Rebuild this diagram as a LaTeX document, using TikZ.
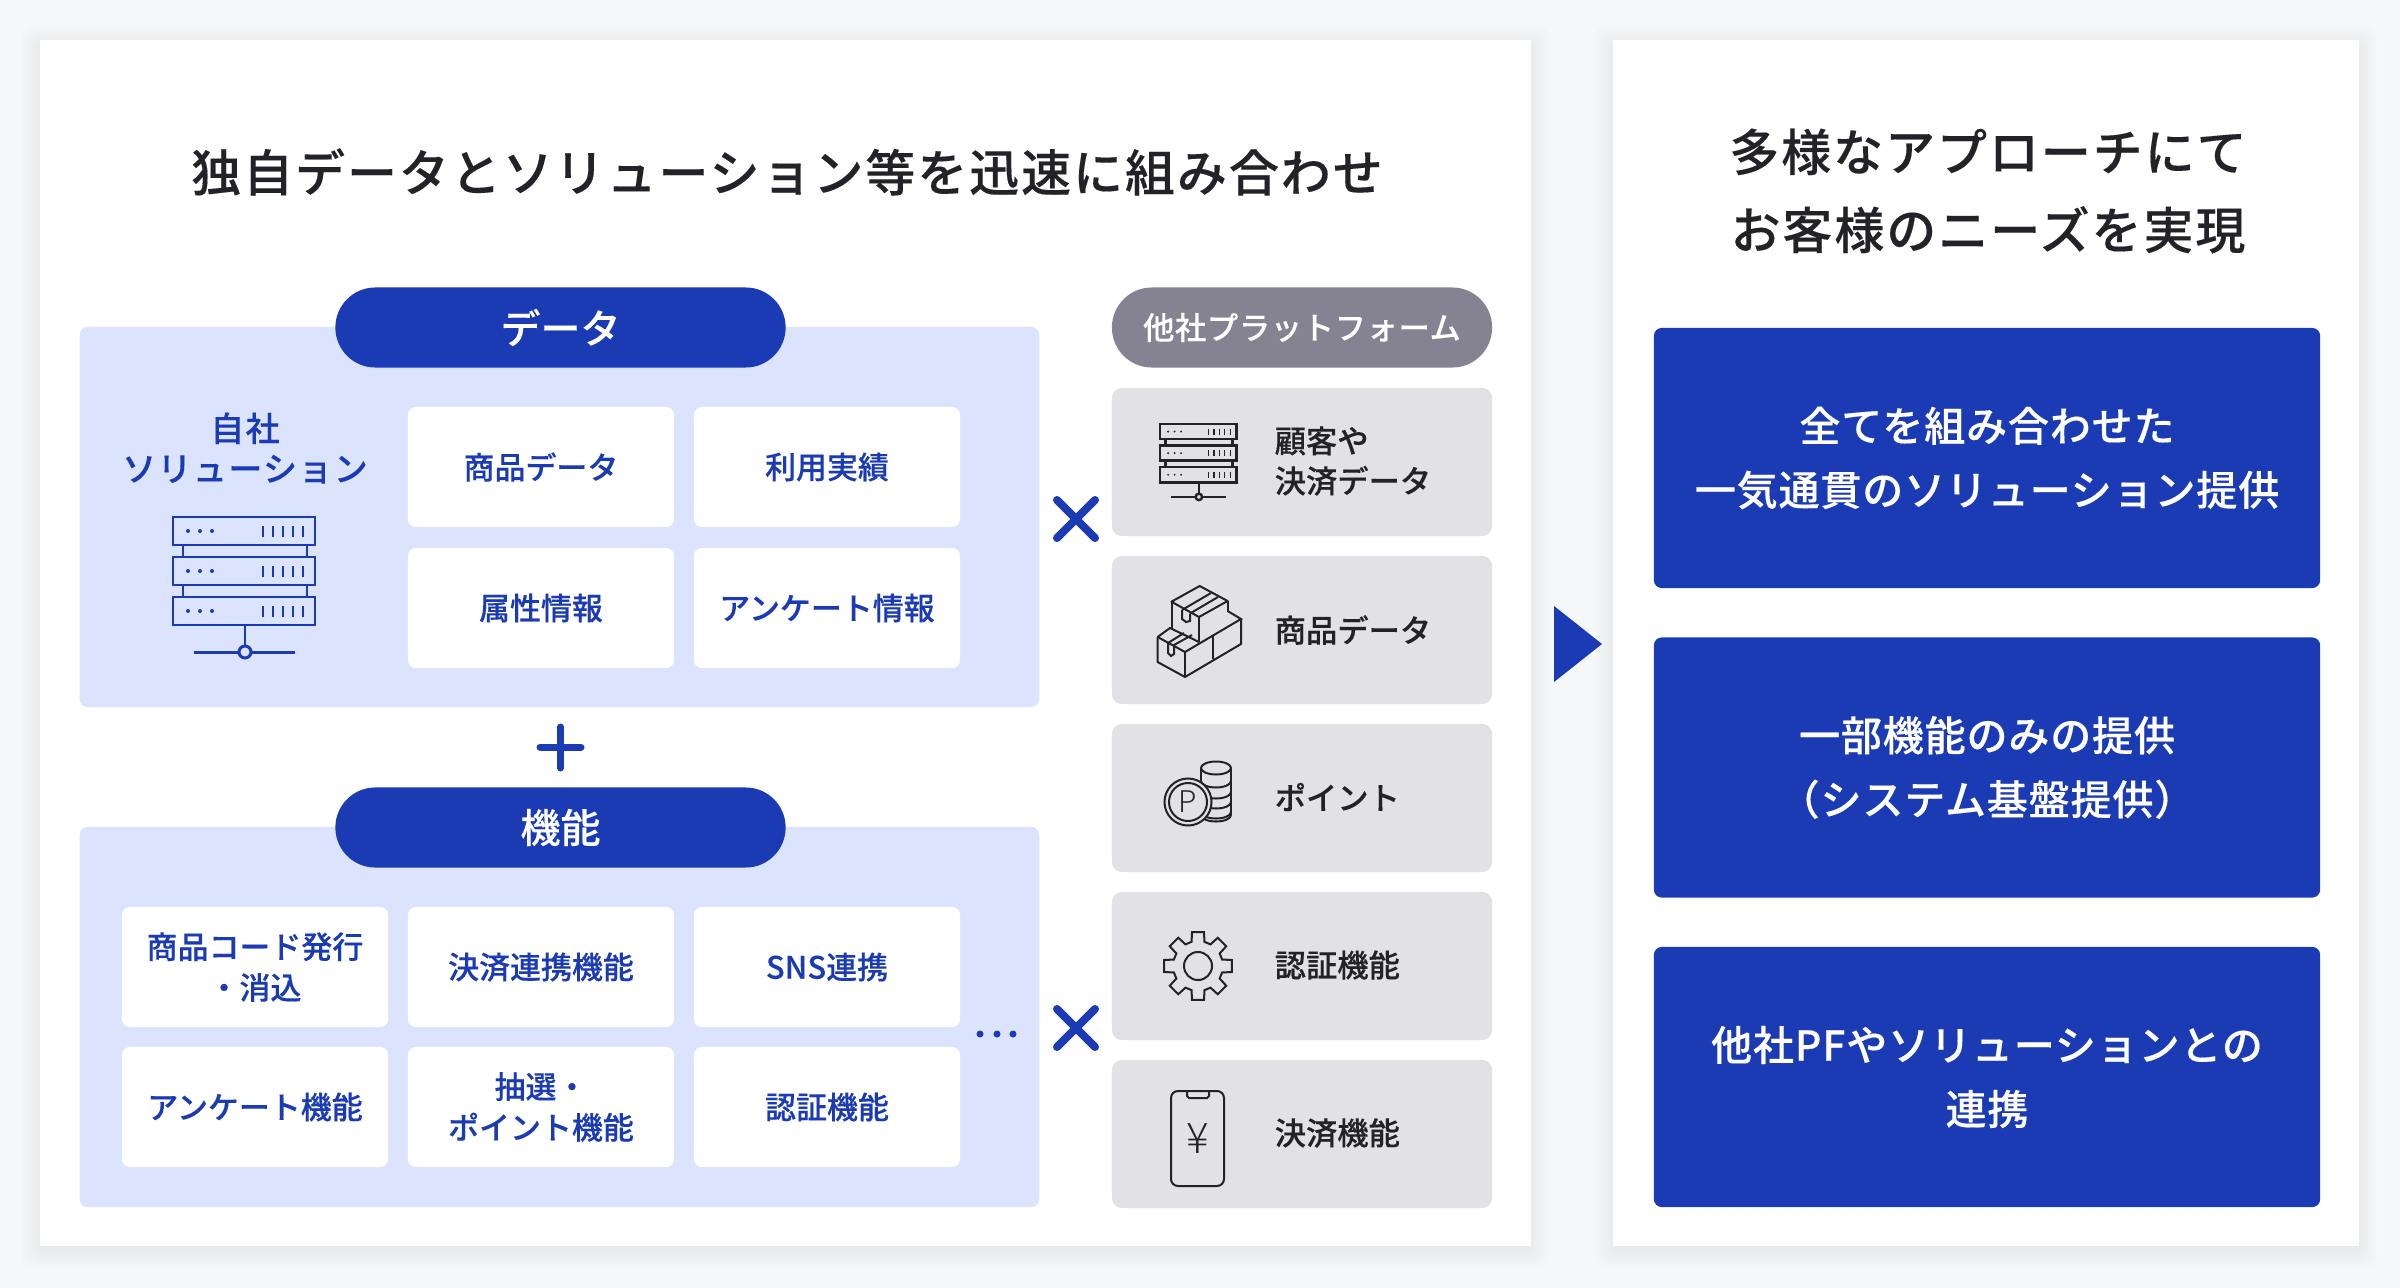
\documentclass[tikz,border=0pt]{standalone}
\usepackage{fontspec}
\newfontfamily\jpfont[FakeBold=0.25]{Noto Sans CJK JP Medium}
\newfontfamily\jpplain{Noto Sans CJK JP Light}
\usetikzlibrary{calc}

\definecolor{pagebg}{HTML}{F6F7F9}
\definecolor{brandblue}{HTML}{1A3BB3}
\definecolor{paleblue}{HTML}{DCE3FD}
\definecolor{pillgrey}{HTML}{858391}
\definecolor{boxgrey}{HTML}{E1E1E6}
\definecolor{inkdark}{HTML}{222228}

\tikzset{
  panel/.style={fill=white,inner sep=0pt},
  block/.style={fill=paleblue,rounded corners=0.08cm,inner sep=0pt,minimum width=9.59cm,minimum height=3.8cm},
  pill/.style={fill=brandblue,text=white,rounded corners=0.399cm,inner sep=0pt,minimum width=4.5cm,minimum height=0.8cm,
    font=\jpfont\fontsize{11.38pt}{13pt}\selectfont},
  greypill/.style={pill,fill=pillgrey,minimum width=3.8cm,
    font=\jpfont\fontsize{8.9pt}{11pt}\selectfont\addfontfeature{LetterSpace=2}},
  itembox/.style={fill=white,text=brandblue,rounded corners=0.08cm,inner sep=0pt,minimum width=2.66cm,minimum height=1.2cm,align=center,
    font=\jpfont\fontsize{8.8pt}{11.6pt}\selectfont},
  greybox/.style={fill=boxgrey,rounded corners=0.1cm,inner sep=0pt,minimum width=3.8cm,minimum height=1.48cm},
  greytext/.style={anchor=west,text=inkdark,inner sep=0pt,align=left,
    font=\jpfont\fontsize{8.9pt}{11.4pt}\selectfont},
  offerbox/.style={fill=brandblue,text=white,rounded corners=0.08cm,inner sep=0pt,minimum width=6.66cm,minimum height=2.6cm,align=center,
    font=\jpfont\fontsize{11.67pt}{18.2pt}\selectfont\addfontfeature{LetterSpace=2}},
  headline/.style={text=inkdark,inner sep=0pt,align=center,
    font=\jpfont\fontsize{14.2pt}{22.2pt}\selectfont\addfontfeature{LetterSpace=4}},
  iconline/.style={color=inkdark,line width=0.57pt},
  pics/server/.style={code={
    \draw (0,0) rectangle (142,28);
    \draw (0,40) rectangle (142,68);
    \draw (0,80) rectangle (142,108);
    \draw (10,28) -- (10,40) (134,28) -- (134,40) (10,68) -- (10,80) (134,68) -- (134,80);
    \foreach \y in {14,54,94} {
      \foreach \x in {15,27,39} \fill (\x,\y) circle (0.02cm);
      \foreach \x in {90,100,110,120,130} \fill (\x-1.2,\y-5.5) rectangle (\x+1.2,\y+5.5);
    }
    \draw (72,108) -- (72,129);
    \draw (21,135) -- (66,135) (78,135) -- (122,135);
    \draw (72,135) circle (0.06cm);
  }},
  pics/crossmark/.style={code={
    \draw[brandblue,line width=0.08cm,line cap=round] (-19,-19) -- (19,19) (-19,19) -- (19,-19);
  }}
}

\begin{document}
\begin{tikzpicture}[x=0.01cm,y=-0.01cm]
\useasboundingbox (0,0) rectangle (2400,1288);
\fill[pagebg] (0,0) rectangle (2400,1288);
\foreach \s in {3,6,...,18} {
  \fill[black,opacity=0.006,rounded corners=0.1cm] (40-\s,40-\s+4) rectangle (1531+\s,1246+\s+4);
  \fill[black,opacity=0.006,rounded corners=0.1cm] (1613-\s,40-\s+4) rectangle (2359+\s,1246+\s+4);
}
\node[panel,minimum width=14.91cm,minimum height=12.06cm] (leftpanel) at (785.5,643) {};
\node[panel,minimum width=7.46cm,minimum height=12.06cm] (rightpanel) at (1986,643) {};

\node[headline] (lefttitle) at (787,172) {独自データとソリューション等を迅速に組み合わせ};
\node[headline] (righttitle) at (1988,191) {多様なアプローチにて\\お客様のニーズを実現};

\node[block] (datablock) at (559.5,517) {};
\node[block] (funcblock) at (559.5,1017) {};
\node[pill] (datapill) at (560.5,327.5) {データ};
\node[pill] (funcpill) at (560.5,827.5) {機能};
\node[greypill] (otherpill) at (1302,327.5) {他社プラットフォーム};

\node[text=brandblue,inner sep=0pt,align=center,font=\jpfont\fontsize{9.67pt}{11.4pt}\selectfont\addfontfeature{LetterSpace=4}] (ownlabel) at (245,448) {自社\\ソリューション};
\pic[color=brandblue,line width=0.85pt] at (173,517) {server};

\node[itembox] (shohin) at (541,467) {商品データ};
\node[itembox] (riyo) at (827,467) {利用実績};
\node[itembox] (zokusei) at (541,608) {属性情報};
\node[itembox] (enquete) at (827,608) {アンケート情報};

\node[itembox] (code) at (255,967) {商品コード発行\\・消込};
\node[itembox] (kessai) at (541,967) {決済連携機能};
\node[itembox] (sns) at (827,967) {SNS連携};
\node[itembox] (enqfunc) at (255,1107) {アンケート機能};
\node[itembox] (lottery) at (541,1107) {抽選・\\ポイント機能};
\node[itembox] (auth) at (827,1107) {認証機能};

\foreach \x in {980,997,1013} \fill[brandblue] (\x,1034) circle (0.035cm);
\draw[brandblue,line width=0.07cm,line cap=round] (540,747) -- (581,747) (560.5,727) -- (560.5,768);
\pic at (1076,519) {crossmark};
\pic at (1076,1028) {crossmark};

\node[greybox] (custbox) at (1302,462) {};
\node[greybox] (prodbox) at (1302,630) {};
\node[greybox] (pointbox) at (1302,798) {};
\node[greybox] (authbox) at (1302,966) {};
\node[greybox] (paybox) at (1302,1134) {};
\node[greytext] (custtext) at (1274,461) {顧客や\\決済データ};
\node[greytext] (prodtext) at (1274,630) {商品データ};
\node[greytext] (pointtext) at (1274,797) {ポイント};
\node[greytext] (authtext) at (1274,965) {認証機能};
\node[greytext] (paytext) at (1274,1133) {決済機能};

\pic[iconline,line width=0.7pt,scale=0.54] at (1160,424) {server};

\begin{scope}[iconline]
\draw[line join=round] (1199.7,586) -- (1227.6,601) -- (1199,617) -- (1171.4,601.7) -- cycle;
\draw (1199,617) -- (1199,642) (1227.6,601) -- (1227.6,612) (1172,602) -- (1172,628);
\draw (1182,610) -- (1211,593) (1190,613.5) -- (1218,597);
\draw (1182,610) -- (1182,619) -- (1186,622) -- (1190,621) -- (1190,613.5);
\draw (1157.6,637) -- (1185,652) -- (1241,619) -- (1227.6,611);
\draw (1157.6,637) -- (1170,628) -- (1199,642);
\draw (1157.6,637) -- (1157.6,662) -- (1185,677) -- (1241,644) -- (1241,619);
\draw (1185,652) -- (1185,677) (1213,636) -- (1213,659);
\draw (1168,643) -- (1168,653) -- (1171,656) -- (1174,654) -- (1174,645) -- (1192,635) (1168,643) -- (1184,633);

\draw (1216,768) ellipse [x radius=0.15cm,y radius=0.065cm];
\draw (1201,768) -- (1201,792) (1231,768) -- (1231,815);
\foreach \y in {781,792,802,812,815} \draw (1231,\y) arc[start angle=0,end angle=-180,x radius=0.15cm,y radius=0.065cm];
\fill[boxgrey] (1188,802) circle (0.24cm);
\draw (1188,802) circle (0.235cm) (1188,802) circle (0.19cm);
\node[inkdark,inner sep=0pt,font=\jpplain\fontsize{8.5pt}{10pt}\selectfont] (pointmark) at (1188,802) {P};

\draw[shift={(1198,966)},line join=miter] (-15:25) \foreach \a in {0,45,...,315} {-- (\a-15:25) -- (\a-10:34.5) -- (\a+10:34.5) -- (\a+15:25)} -- cycle;
\draw (1198,966) circle (0.14cm);

\draw[rounded corners=0.07cm] (1171,1091) rectangle (1224,1186);
\draw (1187,1091) -- (1187,1096) -- (1189,1098) -- (1207,1098) -- (1209,1096) -- (1209,1091);
\node[inkdark,inner sep=0pt,font=\jpplain\fontsize{12pt}{14pt}\selectfont] (yenmark) at (1197.5,1139) {¥};
\end{scope}

\fill[brandblue] (1554,606) -- (1602,644) -- (1554,682) -- cycle;

\node[offerbox] (offerone) at (1987,458) {全てを組み合わせた\\一気通貫のソリューション提供};
\node[offerbox] (offertwo) at (1987,767.5) {一部機能のみの提供\\（システム基盤提供）};
\node[offerbox] (offerthree) at (1987,1077) {他社PFやソリューションとの\\連携};
\end{tikzpicture}
\end{document}
